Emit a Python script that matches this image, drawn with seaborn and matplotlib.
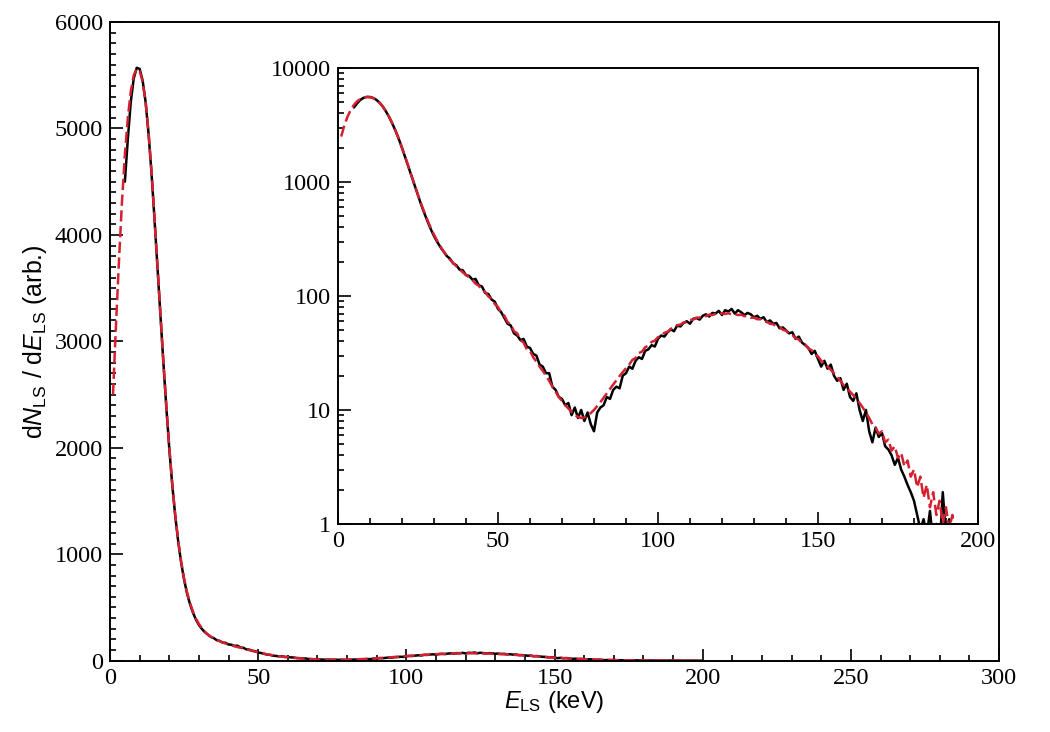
import numpy as np
import pandas as pd
import matplotlib
matplotlib.use("Agg")
import matplotlib.pyplot as plt
from matplotlib.ticker import MultipleLocator, FixedLocator, LogLocator, NullFormatter
import seaborn as sns

# --- data ---
# measured spectrum, 1 keV bins from 5 to 200 keV
meas_kev = np.arange(5, 201)
meas_counts = [
    4500, 4900, 5250, 5470, 5570, 5560, 5450, 5250, 4950, 4580,
    4150, 3700, 3240, 2800, 2380, 1990, 1650, 1360, 1120, 920,
    760, 630, 530, 450, 385, 335, 298, 268, 245, 224,
    212, 193, 186, 170, 168, 152, 150, 139, 141, 124,
    121, 106, 104, 93, 89, 77, 72, 64, 57, 55,
    47, 45, 41, 42, 36, 35, 31, 30, 25, 24,
    21, 21, 16, 15, 13, 12.5, 11, 11.5, 9, 10.5,
    8.5, 10, 8, 9.5, 7.5, 6.5, 9.5, 10.5, 11, 13,
    12.5, 15, 16, 15.5, 20, 21, 24, 23, 27, 29,
    28, 33, 34, 37, 36, 42, 45, 44, 48, 51,
    49, 55, 54, 58, 60, 57, 63, 64, 62, 67,
    69, 66, 71, 70, 74, 68, 75, 73, 77, 70,
    75, 72, 68, 71, 69, 65, 67, 63, 65, 59,
    61, 57, 58, 52, 53, 50, 47, 48, 42, 44,
    39, 37, 35, 31, 33, 28, 24, 27, 23, 25,
    20, 18, 19, 15, 17, 13, 12, 14, 10, 8,
    10, 6.5, 5.2, 7.0, 5.8, 6.3, 4.8, 4.5, 4.0, 3.3,
    3.8, 3.0, 2.6, 2.2, 1.9, 1.6, 1.2, 0.9, 1.1, 0.8,
    1.3, 0.7, 1.0, 0.6, 1.9, 0.8, 1.1, 0.5, 0.4, 0.3,
    0.3, 0.2, 0.2, 0.2, 0.1, 0.1,
]

# simulated spectrum, 1 keV bins from 1 to 200 keV
sim_kev = np.arange(1, 201)
sim_counts = [
    2500, 3150, 3750, 4300, 4750, 5100, 5350, 5500, 5560, 5540,
    5440, 5250, 4960, 4590, 4160, 3710, 3250, 2810, 2390, 2000,
    1660, 1370, 1130, 930, 770, 640, 540, 460, 395, 345,
    305, 272, 246, 226, 208, 194, 182, 171, 161, 153,
    145, 138, 128, 123, 113, 108, 99, 94, 85, 80,
    71, 67, 59, 56, 49, 47, 41, 39, 34, 33,
    29, 26.5, 24, 22, 20, 18, 16, 14.5, 13, 12,
    11, 10.3, 9.6, 9.0, 8.7, 8.5, 8.6, 8.9, 9.4, 10.0,
    10.8, 11.7, 12.8, 14.0, 15.3, 16.7, 18.2, 19.8, 21.5, 23.2,
    25, 27.5, 28.5, 31.5, 32.5, 35.5, 36.5, 39.5, 40.5, 43.5,
    44.5, 47.5, 48.5, 51.5, 52.5, 55.5, 56, 58.5, 59, 61.5,
    62, 64.5, 64.5, 66.5, 66.5, 68.5, 68, 69.5, 69, 70.5,
    69.5, 70.5, 69, 69.5, 68, 68.5, 66.5, 66.5, 64.5, 64.5,
    62.5, 62.5, 60, 59.5, 57, 56.5, 54, 53.5, 50.5, 49.5,
    46.5, 45.5, 42.5, 41.5, 38.5, 37.5, 34.5, 33.5, 30.5, 29.5,
    27, 25.5, 24, 22.5, 21, 19.5, 18, 16.5, 15.5, 14.5,
    13.5, 12.5, 11.5, 10.5, 9.5, 8.5, 7.5, 7.0, 6.2, 6.5,
    5.2, 5.5, 4.4, 4.8, 3.8, 4.2, 3.2, 3.6, 2.6, 3.0,
    2.1, 2.6, 1.7, 2.2, 1.4, 1.9, 1.2, 1.6, 1.0, 1.4,
    0.9, 1.2, 0.8, 0.6, 0.5, 0.4, 0.3, 0.25, 0.2, 0.15,
]

main_xticks = [0, 50, 100, 150, 200, 250, 300]
main_yticks = [0, 1000, 2000, 3000, 4000, 5000, 6000]
inset_xticks = [0, 50, 100, 150, 200]
inset_yticks = [1, 10, 100, 1000, 10000]

meas = pd.DataFrame({"E": meas_kev, "N": meas_counts})
sim = pd.DataFrame({"E": sim_kev, "N": sim_counts})

# --- style ---
sns.set_theme(style="ticks")
plt.rcParams["font.family"] = ["Liberation Sans", "DejaVu Sans"]
plt.rcParams["mathtext.fontset"] = "custom"
plt.rcParams["mathtext.rm"] = "Liberation Sans"
plt.rcParams["mathtext.it"] = "Liberation Sans:italic"
plt.rcParams["axes.linewidth"] = 1.4
plt.rcParams["axes.edgecolor"] = "black"
plt.rcParams["text.color"] = "black"
plt.rcParams["axes.labelcolor"] = "black"
plt.rcParams["xtick.color"] = "black"
plt.rcParams["ytick.color"] = "black"

RED = "#d42030"
DASH = (0, (4.5, 1.8))


def style_axis(ax):
    ax.tick_params(which="both", direction="in", top=False, right=False,
                   color="black", labelcolor="black", width=1.2)
    ax.tick_params(which="major", length=9, pad=5)
    ax.tick_params(which="minor", length=4.5)
    for lab in ax.get_xticklabels() + ax.get_yticklabels():
        lab.set_fontfamily("Liberation Serif")
        lab.set_fontsize(17.5)


fig = plt.figure(figsize=(10.5, 7.32), dpi=100)
fig.patch.set_facecolor("white")

# --- main axes (linear) ---
ax = fig.add_axes([0.1048, 0.0974, 0.8467, 0.8725])
ax.set_facecolor("white")
sns.lineplot(data=meas, x="E", y="N", ax=ax, color="black", lw=1.8,
             estimator=None, sort=False)
sns.lineplot(data=sim, x="E", y="N", ax=ax, color=RED, lw=1.8,
             linestyle=DASH, estimator=None, sort=False)
ax.set_xlim(0, 300)
ax.set_ylim(0, 6000)
ax.set_xticks(main_xticks)
ax.set_xticklabels([str(t) for t in main_xticks])
ax.set_yticks(main_yticks)
ax.set_yticklabels([str(t) for t in main_yticks])
ax.xaxis.set_minor_locator(MultipleLocator(10))
ax.yaxis.set_minor_locator(MultipleLocator(100))
style_axis(ax)
ax.set_xlabel(r"$E_{\rm LS}$ (keV)", fontsize=17, labelpad=0)
ax.set_ylabel(r"d$N_{\rm LS}$ / d$E_{\rm LS}$ (arb.)", fontsize=18, labelpad=4)

# --- inset (log scale) ---
axin = fig.add_axes([0.3219, 0.2842, 0.6095, 0.6230])
axin.set_facecolor("white")
sns.lineplot(data=meas, x="E", y="N", ax=axin, color="black", lw=1.8,
             estimator=None, sort=False)
sns.lineplot(data=sim, x="E", y="N", ax=axin, color=RED, lw=1.8,
             linestyle=DASH, estimator=None, sort=False)
axin.set_yscale("log")
axin.set_xlim(0, 200)
axin.set_ylim(1, 10000)
axin.set_xticks(inset_xticks)
axin.set_xticklabels([str(t) for t in inset_xticks])
axin.yaxis.set_major_locator(FixedLocator(inset_yticks))
axin.set_yticklabels([str(t) for t in inset_yticks])
axin.yaxis.set_minor_locator(LogLocator(base=10, subs=np.arange(2, 10)))
axin.yaxis.set_minor_formatter(NullFormatter())
axin.xaxis.set_minor_locator(MultipleLocator(10))
style_axis(axin)
axin.set_xlabel("")
axin.set_ylabel("")

fig.savefig("out.png", dpi=100, facecolor="white")
